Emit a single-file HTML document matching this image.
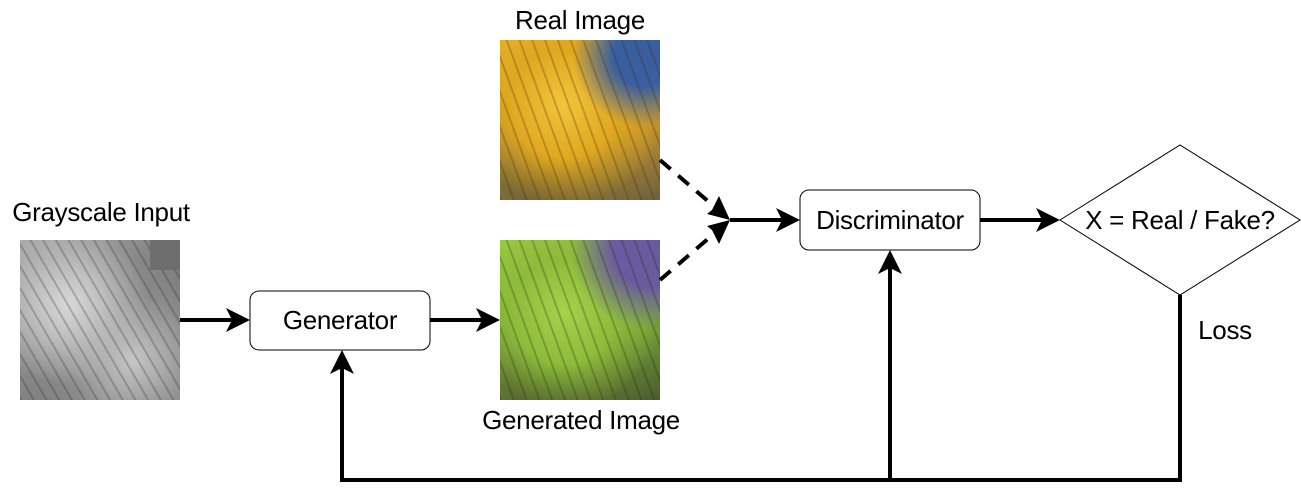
<!DOCTYPE html>
<html><head><meta charset="utf-8"><style>
html,body{margin:0;padding:0;background:#fff;width:1301px;height:492px;overflow:hidden;font-family:"Liberation Sans",sans-serif}
.t{position:absolute;font-size:26px;line-height:26px;color:#000;white-space:nowrap;transform:translateX(-50%);letter-spacing:-0.3px}
.img{position:absolute;width:160px;height:160px}
</style></head><body>
<div class="img" style="left:20px;top:240px;background:
repeating-linear-gradient(60deg,rgba(40,40,40,.25) 0 2px,transparent 2px 11px),
radial-gradient(circle at 30% 40%,#d8d8d8 0,#bdbdbd 25%,transparent 55%),
radial-gradient(circle at 70% 75%,#c8c8c8 0,#8a8a8a 40%,transparent 70%),
linear-gradient(135deg,#aaa,#7a7a7a 60%,#555);"></div>
<div style="position:absolute;left:150px;top:240px;width:30px;height:30px;background:#6e6e6e"></div>
<div class="img" style="left:500px;top:40px;background:
repeating-linear-gradient(70deg,rgba(60,40,10,.25) 0 2px,transparent 2px 12px),
radial-gradient(circle at 90% 10%,#3a5fa0 0,#3a5fa0 15%,transparent 35%),
radial-gradient(circle at 40% 40%,#f2c53a 0,#e0a820 40%,transparent 75%),
radial-gradient(circle at 30% 85%,#6a5a30 0,#7a6a38 25%,transparent 55%),
linear-gradient(160deg,#e6b42a,#c9962a 60%,#6c6040);"></div>
<div class="img" style="left:500px;top:240px;background:
repeating-linear-gradient(70deg,rgba(30,40,10,.25) 0 2px,transparent 2px 12px),
radial-gradient(circle at 95% 5%,#6a5aa0 0,#6a5aa0 18%,transparent 38%),
radial-gradient(circle at 40% 45%,#a6d24a 0,#8cbc3a 40%,transparent 75%),
radial-gradient(circle at 35% 85%,#4a5a2c 0,#5a6a30 25%,transparent 55%),
linear-gradient(160deg,#9ccc44,#7aa83a 60%,#4a5a30);"></div>

<svg width="1301" height="492" style="position:absolute;left:0;top:0">
<g stroke="#000" stroke-width="4" fill="none">
<line x1="180" y1="320" x2="236" y2="320"/>
<line x1="430" y1="320" x2="486" y2="320"/>
<line x1="730" y1="220" x2="786" y2="220"/>
<line x1="980" y1="220" x2="1046" y2="220"/>
<line x1="660" y1="160" x2="716" y2="208" stroke-dasharray="14,10"/>
<line x1="660" y1="280" x2="716" y2="232" stroke-dasharray="14,10"/>
<polyline points="1180,295 1180,480 342,480 342,364"/>
<line x1="890" y1="480" x2="890" y2="264"/>
</g>
<g fill="#000">
<path d="M250,320 L226,308 L232,320 L226,332 Z"/>
<path d="M500,320 L476,308 L482,320 L476,332 Z"/>
<path d="M800,220 L776,208 L782,220 L776,232 Z"/>
<path d="M1060,220 L1036,208 L1042,220 L1036,232 Z"/>
<path d="M342,350 L330,374 L342,368 L354,374 Z"/>
<path d="M890,250 L878,274 L890,268 L902,274 Z"/>
<path d="M730,220 L707,214 L712,210 L719,196 Z"/>
<path d="M730,220 L707,226 L712,230 L719,244 Z"/>
</g>
<rect x="250" y="291" width="180" height="59" rx="9" fill="#fff" stroke="#000" stroke-width="1"/>
<rect x="800" y="190" width="180" height="60" rx="9" fill="#fff" stroke="#000" stroke-width="1"/>
<polygon points="1060,220 1180,145 1300,220 1180,295" fill="#fff" stroke="#000" stroke-width="1"/>
</svg>
<div class="t" style="left:101px;top:199px">Grayscale Input</div>
<div class="t" style="left:580px;top:7px">Real Image</div>
<div class="t" style="left:581px;top:407px">Generated Image</div>
<div class="t" style="left:340px;top:307px">Generator</div>
<div class="t" style="left:890px;top:207px">Discriminator</div>
<div class="t" style="left:1180px;top:207px">X = Real / Fake?</div>
<div class="t" style="left:1225px;top:317px">Loss</div>
</body></html>
